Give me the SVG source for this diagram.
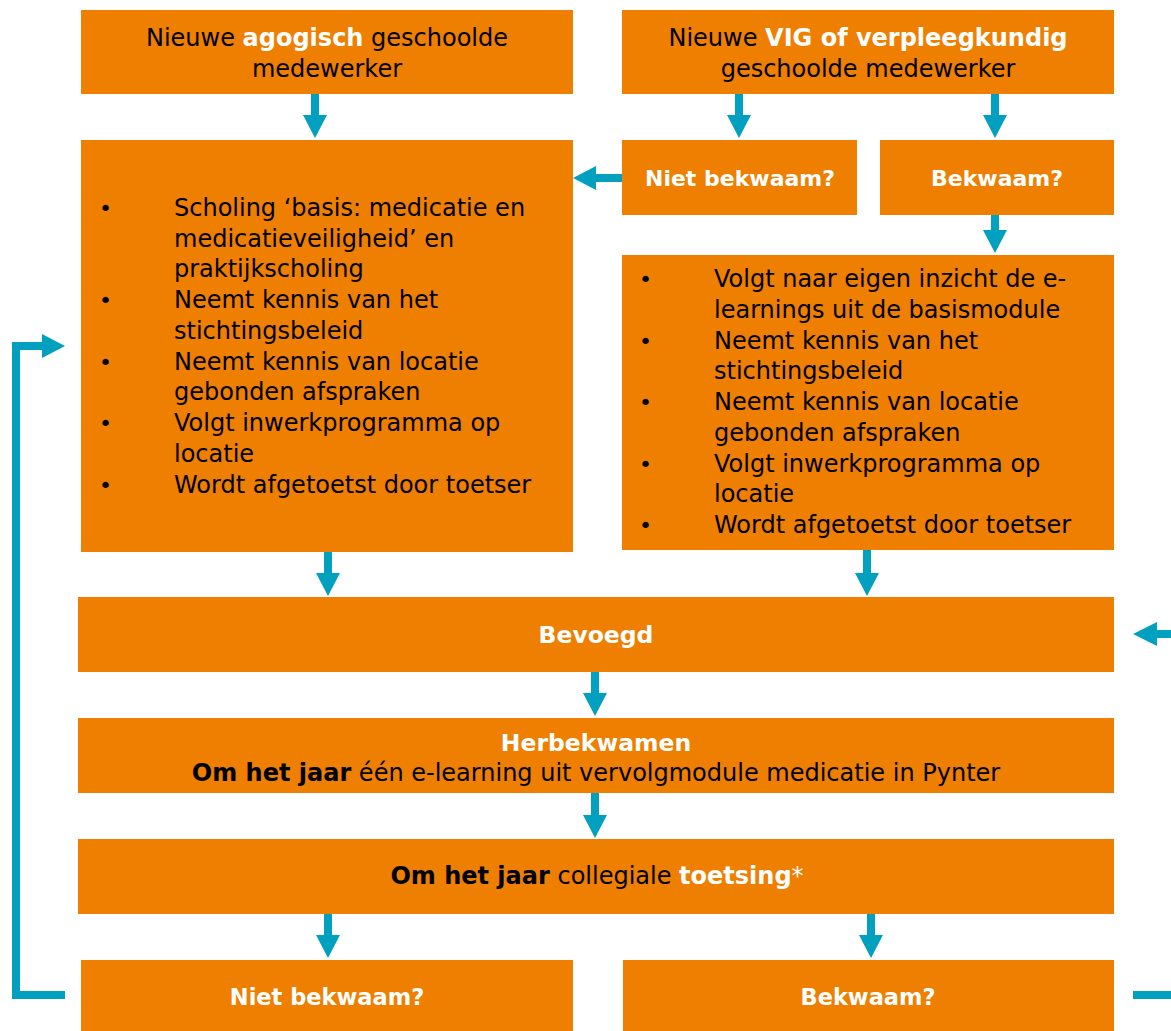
<svg xmlns="http://www.w3.org/2000/svg" width="1171" height="1031" viewBox="0 0 1171 1031">
<style>
.box{fill:#EE7F00}
text{font-family:"DejaVu Sans","Verdana",sans-serif;font-size:24px;fill:#000}
.c{text-anchor:middle}
.b{font-weight:bold}
.w{fill:#fff}
.lbl{font-size:22px;font-weight:bold;fill:#fff;text-anchor:middle}
.big{font-size:23.5px}
.bul{font-size:22px}
.arr{fill:#00A0BE}
.ln{fill:none;stroke:#00A0BE;stroke-width:8;stroke-linejoin:miter}
</style>
<rect width="1171" height="1031" fill="#fff"/>
<g id="connectors">
<path class="arr" d="M311,94 H319 V115 H327 L315,138 L303,115 H311 Z"/>
<path class="arr" d="M735,94 H743 V115 H751 L739,138 L727,115 H735 Z"/>
<path class="arr" d="M991,94 H999 V115 H1007 L995,138 L983,115 H991 Z"/>
<path class="arr" d="M991,215 H999 V230 H1007 L995,253 L983,230 H991 Z"/>
<path class="arr" d="M622,174 V182 H596 V190 L573,178 L596,166 V174 Z"/>
<path class="arr" d="M324,552 H332 V573 H340 L328,596 L316,573 H324 Z"/>
<path class="arr" d="M863,550 H871 V573 H879 L867,596 L855,573 H863 Z"/>
<path class="arr" d="M1171,630 V638 H1157 V646 L1133,634 L1157,622 V630 Z"/>
<path class="arr" d="M591,672 H599 V693 H607 L595,716 L583,693 H591 Z"/>
<path class="arr" d="M591,793 H599 V815 H607 L595,838 L583,815 H591 Z"/>
<path class="arr" d="M324,914 H332 V935 H340 L328,958 L316,935 H324 Z"/>
<path class="arr" d="M867,914 H875 V935 H883 L871,958 L859,935 H867 Z"/>
<path class="ln" d="M65,995 H16 V346 H44"/>
<path class="arr" d="M42,334 L65,346 L42,358 Z"/>
<path class="ln" d="M1133,995 H1171"/>
</g>
<g id="nodeA">
<rect class="box" x="81" y="10" width="492" height="84"/>
<text class="c" x="327" y="46">Nieuwe <tspan class="b w">agogisch</tspan> geschoolde</text>
<text class="c" x="327" y="77">medewerker</text>
</g>
<g id="nodeB">
<rect class="box" x="622" y="10" width="492" height="84"/>
<text class="c" x="868" y="46">Nieuwe <tspan class="b w">VIG of verpleegkundig</tspan></text>
<text class="c" x="868" y="77">geschoolde medewerker</text>
</g>
<g id="nodeC">
<rect class="box" x="81" y="140" width="492" height="412"/>
<text class="bul" x="99" y="216">•</text><text x="174" y="216">Scholing ‘basis: medicatie en</text>
<text x="174" y="247">medicatieveiligheid’ en</text>
<text x="174" y="277">praktijkscholing</text>
<text class="bul" x="99" y="308">•</text><text x="174" y="308">Neemt kennis van het</text>
<text x="174" y="339">stichtingsbeleid</text>
<text class="bul" x="99" y="370">•</text><text x="174" y="370">Neemt kennis van locatie</text>
<text x="174" y="400">gebonden afspraken</text>
<text class="bul" x="99" y="431">•</text><text x="174" y="431">Volgt inwerkprogramma op</text>
<text x="174" y="462">locatie</text>
<text class="bul" x="99" y="493">•</text><text x="174" y="493">Wordt afgetoetst door toetser</text>
</g>
<g id="nodeD">
<rect class="box" x="622" y="140" width="235" height="75"/>
<text class="lbl" x="740" y="186">Niet bekwaam?</text>
</g>
<g id="nodeE">
<rect class="box" x="880" y="140" width="234" height="75"/>
<text class="lbl" x="997" y="186">Bekwaam?</text>
</g>
<g id="nodeF">
<rect class="box" x="622" y="255" width="492" height="295"/>
<text class="bul" x="639" y="287">•</text><text x="714" y="287">Volgt naar eigen inzicht de e-</text>
<text x="714" y="318">learnings uit de basismodule</text>
<text class="bul" x="639" y="349">•</text><text x="714" y="349">Neemt kennis van het</text>
<text x="714" y="379">stichtingsbeleid</text>
<text class="bul" x="639" y="410">•</text><text x="714" y="410">Neemt kennis van locatie</text>
<text x="714" y="441">gebonden afspraken</text>
<text class="bul" x="639" y="472">•</text><text x="714" y="472">Volgt inwerkprogramma op</text>
<text x="714" y="502">locatie</text>
<text class="bul" x="639" y="533">•</text><text x="714" y="533">Wordt afgetoetst door toetser</text>
</g>
<g id="nodeG">
<rect class="box" x="78" y="597" width="1036" height="75"/>
<text class="lbl big" x="596" y="643">Bevoegd</text>
</g>
<g id="nodeH">
<rect class="box" x="78" y="718" width="1036" height="75"/>
<text class="lbl big" x="596" y="751">Herbekwamen</text>
<text class="c" x="596" y="781"><tspan class="b">Om het jaar</tspan> één e-learning uit vervolgmodule medicatie in Pynter</text>
</g>
<g id="nodeI">
<rect class="box" x="78" y="839" width="1036" height="75"/>
<text class="c" x="597" y="884"><tspan class="b">Om het jaar</tspan> collegiale <tspan class="b w">toetsing</tspan><tspan class="w">*</tspan></text>
</g>
<g id="nodeJ">
<rect class="box" x="81" y="960" width="492" height="71"/>
<text class="lbl" x="327" y="1005" style="font-size:22.5px">Niet bekwaam?</text>
</g>
<g id="nodeK">
<rect class="box" x="623" y="960" width="491" height="71"/>
<text class="lbl" x="868" y="1005" style="font-size:22.5px">Bekwaam?</text>
</g>
</svg>
